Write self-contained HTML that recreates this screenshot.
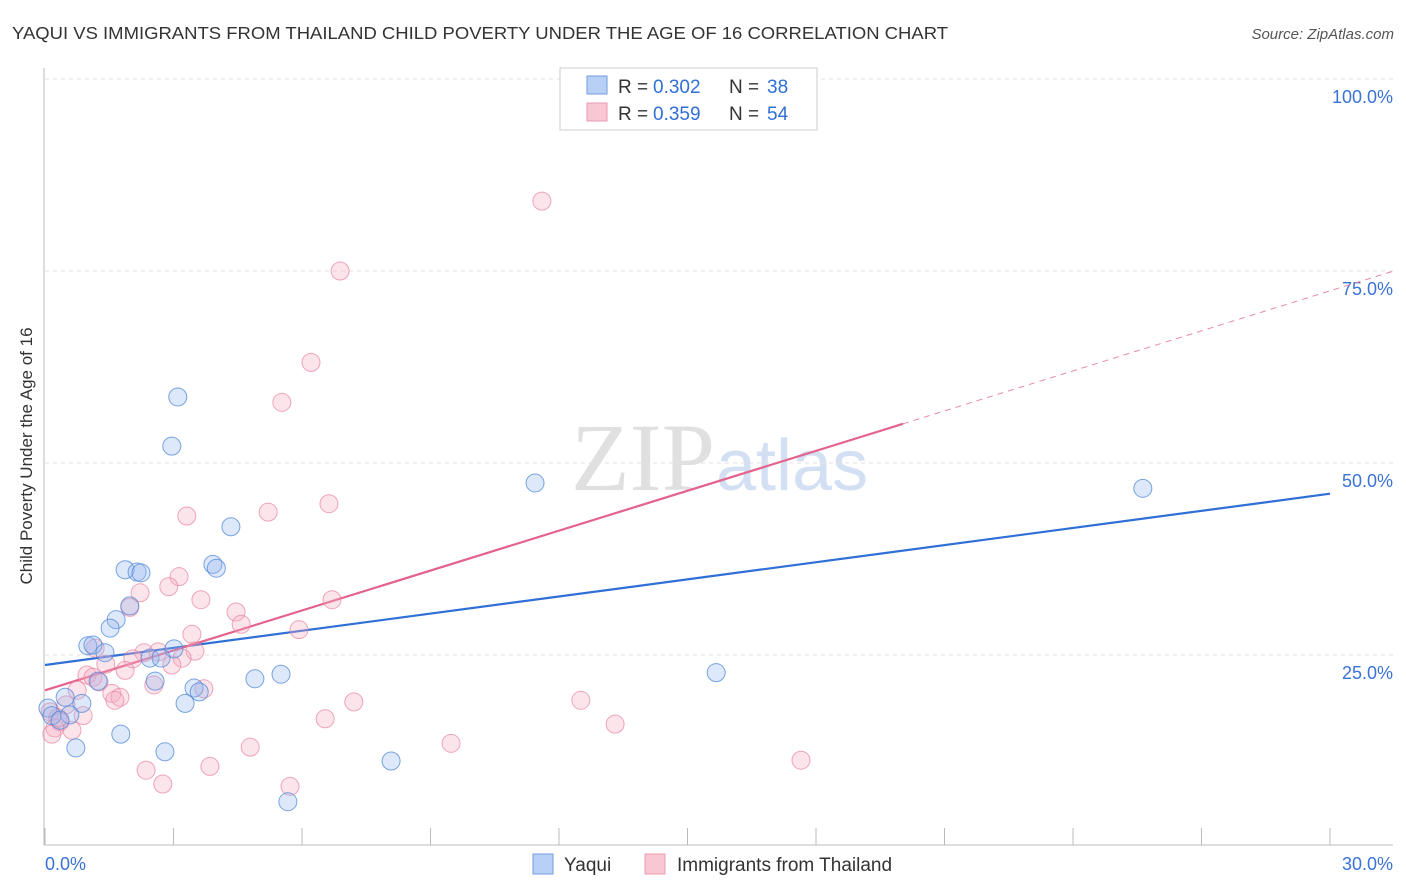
<!DOCTYPE html>
<html><head><meta charset="utf-8"><style>
body{margin:0;background:#fff;font-family:"Liberation Sans",sans-serif;}
svg{display:block}
</style></head><body>
<svg id="c" width="1406" height="892">
<text x="12" y="39" font-size="17.5" fill="#333" textLength="936" lengthAdjust="spacingAndGlyphs">YAQUI VS IMMIGRANTS FROM THAILAND CHILD POVERTY UNDER THE AGE OF 16 CORRELATION CHART</text>
<text x="1394" y="39" font-size="15" fill="#555" font-style="italic" text-anchor="end">Source: ZipAtlas.com</text>
<text x="32" y="456" font-size="17" fill="#333" text-anchor="middle" transform="rotate(-90 32 456)">Child Poverty Under the Age of 16</text>
<text x="715" y="490" font-size="96" fill="#e0e0e0" text-anchor="end" font-family="Liberation Serif,serif">ZIP</text>
<text x="716" y="490" font-size="72" fill="#d3e0f4">atlas</text>
<g id="grid"></g><g id="axes"></g><g id="lines"></g><g id="pts"></g>
<g>
<rect x="560" y="68" width="257" height="62" fill="#fff" stroke="#ccc"/>
<rect x="587" y="76" width="20" height="18" fill="#b8d0f4" stroke="#6f9de0"/>
<rect x="587" y="103" width="20" height="18" fill="#f9c6d4" stroke="#ec9ab2"/>
<text x="618" y="93" font-size="19" fill="#333">R =</text>
<text x="653" y="93" font-size="19" fill="#2f6fd6">0.302</text>
<text x="729" y="93" font-size="19" fill="#333">N =</text>
<text x="767" y="93" font-size="19" fill="#2f6fd6">38</text>
<text x="618" y="120" font-size="19" fill="#333">R =</text>
<text x="653" y="120" font-size="19" fill="#2f6fd6">0.359</text>
<text x="729" y="120" font-size="19" fill="#333">N =</text>
<text x="767" y="120" font-size="19" fill="#2f6fd6">54</text>
</g>
<g>
<rect x="533" y="854" width="20" height="20" fill="#b8d0f4" stroke="#6f9de0"/>
<text x="564" y="871" font-size="19" fill="#333">Yaqui</text>
<rect x="645" y="854" width="20" height="20" fill="#f9c6d4" stroke="#ec9ab2"/>
<text x="677" y="871" font-size="19" fill="#333">Immigrants from Thailand</text>
</g>
</svg>
<script>
const yTicks=[25,50,75,100];
const yTickLabels=["25.0%","50.0%","75.0%","100.0%"];
const xTickLabels=["0.0%","30.0%"];
const yaquiX=[3.10,2.96,11.44,25.63,4.34,3.92,4.00,1.87,2.15,2.24,1.98,1.66,1.52,1.00,1.12,1.40,3.01,2.45,2.71,2.57,1.24,4.90,5.51,15.67,3.48,3.60,3.27,0.86,0.47,0.07,0.16,0.58,0.35,1.77,0.72,2.80,8.08,5.67];
const yaquiY=[58.6,52.2,47.4,46.7,41.7,36.8,36.3,36.1,35.8,35.7,31.4,29.6,28.5,26.2,26.3,25.3,25.8,24.6,24.6,21.6,21.6,21.9,22.5,22.7,20.7,20.2,18.7,18.7,19.5,18.1,17.1,17.2,16.5,14.7,12.9,12.4,11.2,5.9];
const thaiX=[11.60,6.89,6.21,5.53,6.63,3.31,5.21,3.13,2.89,2.22,3.64,6.70,1.98,4.46,4.58,5.93,3.43,1.17,2.31,2.64,3.50,3.20,2.96,2.05,1.42,1.87,0.98,1.12,1.26,0.75,2.54,3.71,1.56,1.75,1.63,12.51,7.21,0.49,0.12,0.89,0.35,6.54,13.31,0.23,0.63,0.16,4.79,9.48,2.36,3.85,17.65,2.75,5.72,0.30];
const thaiY=[84.1,75.0,63.1,57.9,44.7,43.1,43.6,35.2,33.9,33.1,32.2,32.2,31.2,30.6,29.0,28.3,27.7,25.9,25.3,25.4,25.5,24.6,23.7,24.5,23.8,23.0,22.4,22.1,21.5,20.4,21.1,20.6,20.0,19.5,19.1,19.1,18.9,18.5,17.6,17.1,16.3,16.7,16.0,15.5,15.2,14.7,13.0,13.5,10.0,10.5,11.3,8.2,7.9,16.8];
const yaquiTrend=[23.7,46.0];   // values at x=0 and x=30
const thaiTrend=[20.4,55.1,20.03]; // value at 0, value at solid end, solid end x
const NS="http://www.w3.org/2000/svg";
const X=v=>45+v/30*1285, Y=v=>847-v/100*768;
function mk(p,t,a){const e=document.createElementNS(NS,t);for(const k in a)e.setAttribute(k,a[k]);p.appendChild(e);return e;}
const grid=document.getElementById('grid'),axes=document.getElementById('axes'),lines=document.getElementById('lines'),pts=document.getElementById('pts');
yTicks.forEach((t,i)=>{
 const l=mk(grid,'line',{x1:45,x2:1393,y1:Y(t),y2:Y(t),stroke:'#e2e2e2','stroke-dasharray':'4,4'});
 
 
 const tx=mk(grid,'text',{x:1393,y:Y(t)+24,'font-size':18,fill:'#3a72d6','text-anchor':'end'});
 tx.textContent=yTickLabels[i];
 
 
});
mk(axes,'line',{x1:44,x2:44,y1:68,y2:845,stroke:'#bbb'});
mk(axes,'line',{x1:44,x2:1393,y1:845,y2:845,stroke:'#bbb'});
for(let k=0;k<=10;k++){const t=mk(axes,'line',{x1:X(k*3),x2:X(k*3),y1:828,y2:845,stroke:'#bbb'});
 
 }
const xl0=mk(axes,'text',{x:45,y:870,'font-size':18,fill:'#3a72d6'});xl0.textContent=xTickLabels[0];


const xl1=mk(axes,'text',{x:1393,y:870,'font-size':18,fill:'#3a72d6','text-anchor':'end'});xl1.textContent=xTickLabels[1];


function dots(xs,ys,fill,stroke,name){xs.forEach((x,i)=>{const c=mk(pts,'circle',{cx:X(x),cy:Y(ys[i]),r:9,fill:fill,stroke:stroke,'stroke-width':1});
 
 });}
dots(thaiX,thaiY,'rgba(246,170,192,0.32)','rgba(232,130,160,0.7)','thailand-point');
dots(yaquiX,yaquiY,'rgba(150,185,240,0.32)','rgba(80,135,215,0.75)','yaqui-point');
const bl=mk(lines,'line',{x1:X(0),y1:Y(yaquiTrend[0]),x2:X(30),y2:Y(yaquiTrend[1]),stroke:'#2f6fd6','stroke-width':2.2});


const sl=(thaiTrend[1]-thaiTrend[0])/thaiTrend[2];
const pl=mk(lines,'line',{x1:X(0),y1:Y(thaiTrend[0]),x2:X(thaiTrend[2]),y2:Y(thaiTrend[1]),stroke:'#e4638d','stroke-width':2.2});


const pd=mk(lines,'line',{x1:X(thaiTrend[2]),y1:Y(thaiTrend[1]),x2:1393,y2:Y(thaiTrend[0]+sl*31.5),stroke:'#e88aa5','stroke-width':1,'stroke-dasharray':'6,5'});


</script>
</body></html>
